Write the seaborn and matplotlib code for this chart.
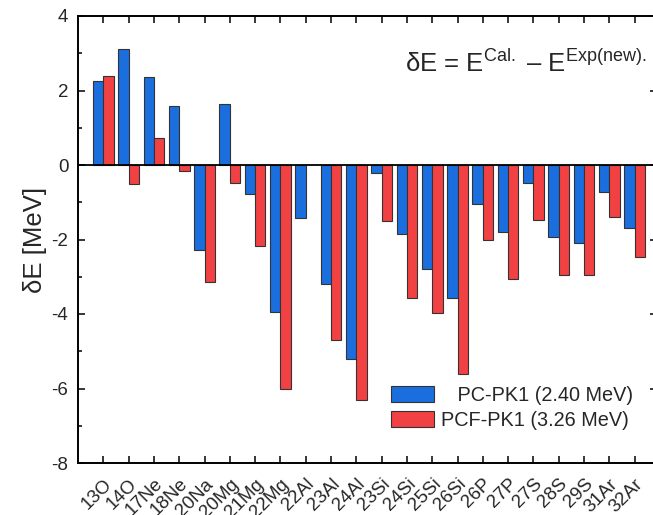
import numpy as np
import pandas as pd
import matplotlib
matplotlib.use("Agg")
import matplotlib.pyplot as plt
from matplotlib.ticker import MultipleLocator
import seaborn as sns

# Proton-rich nuclei and the mass deviations of the two functionals
nuclei = ["13O", "14O", "17Ne", "18Ne", "20Na", "20Mg", "21Mg", "22Mg", "22Al",
          "23Al", "24Al", "23Si", "24Si", "25Si", "26Si", "26P", "27P", "27S",
          "28S", "29S", "31Ar", "32Ar"]
pc_pk1 = [2.26, 3.12, 2.36, 1.59, -2.27, 1.63, -0.79, -3.94, -1.43,
          -3.20, -5.20, -0.22, -1.84, -2.78, -3.58, -1.06, -1.81, -0.48,
          -1.94, -2.10, -0.72, -1.69]
pcf_pk1 = [2.40, -0.52, 0.72, -0.15, -3.14, -0.47, -2.17, -6.00, np.nan,
           -4.69, -6.32, -1.50, -3.57, -3.96, -5.60, -2.00, -3.06, -1.47,
           -2.96, -2.96, -1.39, -2.48]
models = ["   PC-PK1 (2.40 MeV)", "PCF-PK1 (3.26 MeV)"]
colors = ["#1B6EDE", "#F24143"]

df = pd.DataFrame({
    "nucleus": nuclei * 2,
    "dE": pc_pk1 + pcf_pk1,
    "model": [models[0]] * len(nuclei) + [models[1]] * len(nuclei),
})

sns.set_theme(style="white")
plt.rcParams["font.family"] = ["Liberation Sans", "DejaVu Sans"]
plt.rcParams["mathtext.fontset"] = "custom"
plt.rcParams["mathtext.rm"] = "Liberation Sans"
plt.rcParams["mathtext.it"] = "Liberation Sans:italic"
plt.rcParams["axes.unicode_minus"] = False

fig = plt.figure(figsize=(6.53, 5.15), dpi=100)
ax = fig.add_axes([78 / 653, 52 / 515, 579.4 / 653, 447 / 515])

sns.barplot(data=df, x="nucleus", y="dE", hue="model", palette=colors,
            width=0.82, gap=0, errorbar=None, edgecolor="#333333",
            linewidth=0.8, saturation=1, ax=ax, zorder=2)

ax.axhline(0, color="black", lw=1.3, zorder=5)
ax.set_xlim(-1, 21.9)
ax.set_ylim(-8, 4)
ax.yaxis.set_major_locator(MultipleLocator(2))
ax.yaxis.set_minor_locator(MultipleLocator(1))

for s in ax.spines.values():
    s.set_color("black")
    s.set_linewidth(1.4)

ax.tick_params(axis="x", which="major", direction="in", top=True, bottom=True,
               length=5.2, width=1.1, color="black", pad=9, labelsize=13.5)
ax.tick_params(axis="y", which="major", direction="in", left=True, right=True,
               length=5.2, width=1.1, color="black", pad=7, labelsize=13.5)
ax.tick_params(axis="y", which="minor", direction="in", left=True, right=True,
               length=3, width=1.1, color="black")
for lab in ax.get_xticklabels():
    lab.set_rotation(45)
    lab.set_ha("right")
    lab.set_va("top")
    lab.set_rotation_mode("anchor")

ax.set_xlabel("")
ax.set_ylabel("δE [MeV]", fontsize=18.5, labelpad=3)

ax.text(0.564, 0.875, r"δE = E$^{\mathrm{Cal.}}$ – E$^{\mathrm{Exp(new).}}$",
        transform=ax.transAxes, fontsize=18.5, ha="left", va="baseline")

leg = ax.legend(loc="upper left", bbox_to_anchor=(391 / 653, 1 - 386 / 515),
                bbox_transform=fig.transFigure, frameon=False, fontsize=14.3,
                handlelength=2.15, handleheight=0.85, handletextpad=0.35,
                labelspacing=0.3, borderpad=0, borderaxespad=0)

fig.savefig("out.png", dpi=100)
